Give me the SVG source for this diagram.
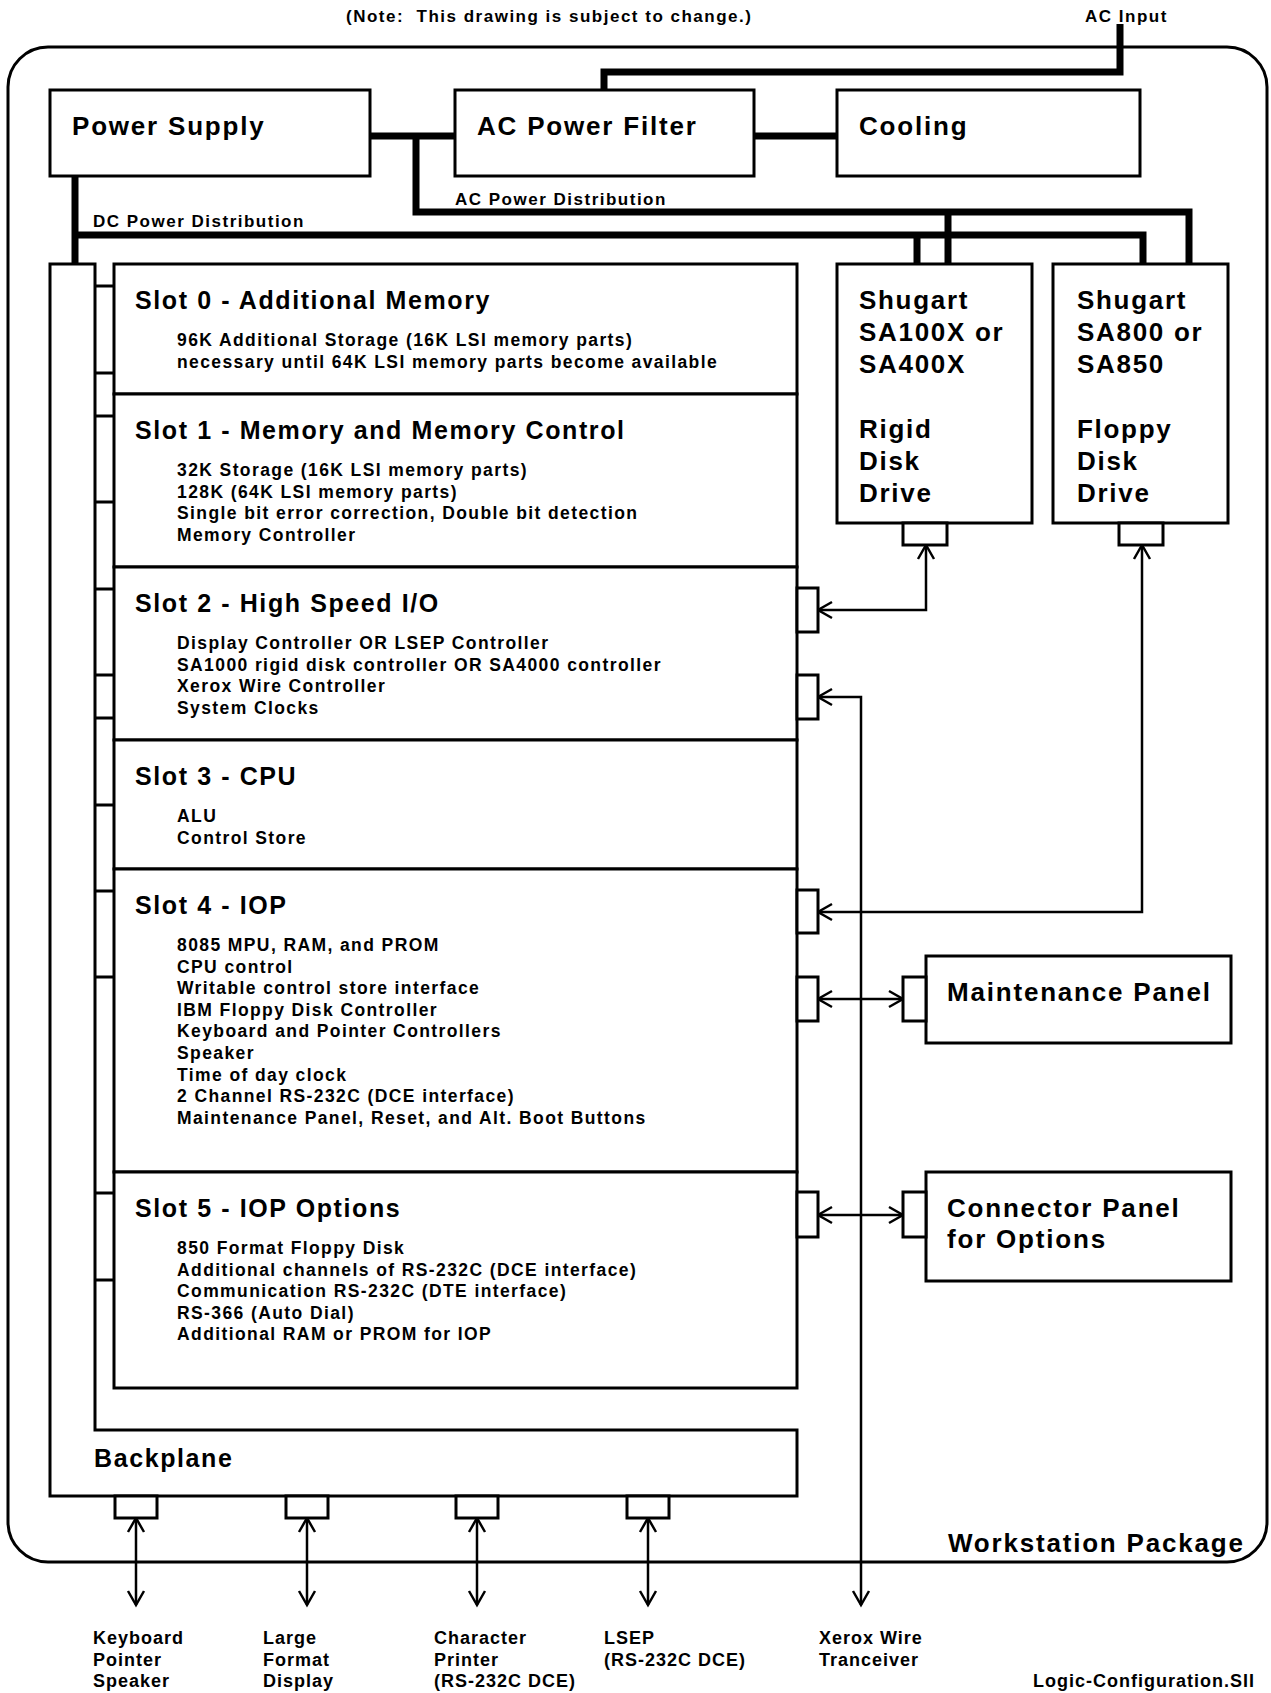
<svg xmlns="http://www.w3.org/2000/svg" width="1271" height="1693" viewBox="0 0 1271 1693">
<style>
text{font-family:"Liberation Sans",Arial,Helvetica,sans-serif;font-weight:bold;fill:#000}
.big{font-size:26px;letter-spacing:1.8px}
.slot{font-size:25px;letter-spacing:1.6px}
.body{font-size:17.5px;letter-spacing:1.4px}
.small{font-size:17px;letter-spacing:1.5px}
.lbl{font-size:18px;letter-spacing:1px}
.drive{font-size:26px;letter-spacing:1.7px}
.box{fill:#fff;stroke:#000;stroke-width:3}
.conn{fill:#fff;stroke:#000;stroke-width:3}
.power{fill:none;stroke:#000;stroke-width:7;stroke-linejoin:miter;stroke-linecap:butt}
.sig{fill:none;stroke:#000;stroke-width:2.5}
.tab{stroke:#000;stroke-width:3}
</style>
<defs>
<marker id="ah" viewBox="-16 -10 20 20" markerWidth="20" markerHeight="20" markerUnits="userSpaceOnUse" refX="0" refY="0" orient="auto-start-reverse">
<path d="M-14,-8 L0,0 L-14,8" fill="none" stroke="#000" stroke-width="2.5"/>
</marker>
</defs>

<text class="small" x="346" y="22">(Note:&#160; This drawing is subject to change.)</text>
<text class="small" x="1085" y="22">AC Input</text>

<g id="workstation-package">
<rect x="8" y="47" width="1259" height="1515" rx="40" fill="none" stroke="#000" stroke-width="3"/>
<text class="big" x="948" y="1552">Workstation Package</text>
</g>

<g id="connectors">
<path class="power" d="M1120,24 V72 H604 V90"/>
<path class="power" d="M370,136 H455"/>
<path class="power" d="M754,136 H837"/>
<path class="power" d="M416,136 V212 H1189 V264"/>
<path class="power" d="M948,212 V264"/>
<path class="power" d="M75,176 V264"/>
<path class="power" d="M75,235 H1143 V264"/>
<path class="power" d="M917,235 V264"/>
<path class="sig" d="M926,545 V610 H818" marker-start="url(#ah)" marker-end="url(#ah)"/>
<path class="sig" d="M818,697 H861 V1605" marker-start="url(#ah)" marker-end="url(#ah)"/>
<path class="sig" d="M1142,545 V912 H818" marker-start="url(#ah)" marker-end="url(#ah)"/>
<path class="sig" d="M818,999 H903" marker-start="url(#ah)" marker-end="url(#ah)"/>
<path class="sig" d="M818,1215 H903" marker-start="url(#ah)" marker-end="url(#ah)"/>
<path class="sig" d="M136,1518 V1605" marker-start="url(#ah)" marker-end="url(#ah)"/>
<path class="sig" d="M307,1518 V1605" marker-start="url(#ah)" marker-end="url(#ah)"/>
<path class="sig" d="M477,1518 V1605" marker-start="url(#ah)" marker-end="url(#ah)"/>
<path class="sig" d="M648,1518 V1605" marker-start="url(#ah)" marker-end="url(#ah)"/>
</g>

<g id="power-supply">
<rect class="box" x="50" y="90" width="320" height="86"/>
<text class="big" x="72" y="135">Power Supply</text>
</g>
<g id="ac-power-filter">
<rect class="box" x="455" y="90" width="299" height="86"/>
<text class="big" x="477" y="135">AC Power Filter</text>
</g>
<g id="cooling">
<rect class="box" x="837" y="90" width="303" height="86"/>
<text class="big" x="859" y="135">Cooling</text>
</g>
<text class="small" x="455" y="205">AC Power Distribution</text>
<text class="small" x="93" y="227">DC Power Distribution</text>

<g id="backplane">
<path class="box" d="M50,264 V1496 H797 V1430 H95 V264 Z"/>
<path class="tab" d="M95,286 H114 M95,373 H114 M95,416 H114 M95,502 H114 M95,589 H114 M95,675 H114 M95,718 H114 M95,805 H114 M95,891 H114 M95,977 H114 M95,1193 H114 M95,1280 H114"/>
<text class="slot" x="94" y="1467">Backplane</text>
<rect class="conn" x="115" y="1496" width="42" height="22"/>
<rect class="conn" x="286" y="1496" width="42" height="22"/>
<rect class="conn" x="456" y="1496" width="42" height="22"/>
<rect class="conn" x="627" y="1496" width="42" height="22"/>
</g>

<g id="slot-0">
<rect class="box" x="114" y="264" width="683" height="130"/>
<text class="slot" x="135" y="309">Slot 0 - Additional Memory</text>
<text class="body" x="177" y="346">96K Additional Storage (16K LSI memory parts)</text>
<text class="body" x="177" y="368">necessary until 64K LSI memory parts become available</text>
</g>
<g id="slot-1">
<rect class="box" x="114" y="394" width="683" height="173"/>
<text class="slot" x="135" y="439">Slot 1 - Memory and Memory Control</text>
<text class="body" x="177" y="476">32K Storage (16K LSI memory parts)</text>
<text class="body" x="177" y="497.6">128K (64K LSI memory parts)</text>
<text class="body" x="177" y="519.2">Single bit error correction, Double bit detection</text>
<text class="body" x="177" y="540.8">Memory Controller</text>
</g>
<g id="slot-2">
<rect class="box" x="114" y="567" width="683" height="173"/>
<text class="slot" x="135" y="612">Slot 2 - High Speed I/O</text>
<text class="body" x="177" y="649">Display Controller OR LSEP Controller</text>
<text class="body" x="177" y="670.6">SA1000 rigid disk controller OR SA4000 controller</text>
<text class="body" x="177" y="692.2">Xerox Wire Controller</text>
<text class="body" x="177" y="713.8">System Clocks</text>
<rect class="conn" x="797" y="588" width="21" height="44"/>
<rect class="conn" x="797" y="675" width="21" height="44"/>
</g>
<g id="slot-3">
<rect class="box" x="114" y="740" width="683" height="129"/>
<text class="slot" x="135" y="785">Slot 3 - CPU</text>
<text class="body" x="177" y="822">ALU</text>
<text class="body" x="177" y="843.6">Control Store</text>
</g>
<g id="slot-4">
<rect class="box" x="114" y="869" width="683" height="303"/>
<text class="slot" x="135" y="914">Slot 4 - IOP</text>
<text class="body" x="177" y="951">8085 MPU, RAM, and PROM</text>
<text class="body" x="177" y="972.6">CPU control</text>
<text class="body" x="177" y="994.2">Writable control store interface</text>
<text class="body" x="177" y="1015.8">IBM Floppy Disk Controller</text>
<text class="body" x="177" y="1037.4">Keyboard and Pointer Controllers</text>
<text class="body" x="177" y="1059">Speaker</text>
<text class="body" x="177" y="1080.6">Time of day clock</text>
<text class="body" x="177" y="1102.2">2 Channel RS-232C (DCE interface)</text>
<text class="body" x="177" y="1123.8">Maintenance Panel, Reset, and Alt. Boot Buttons</text>
<rect class="conn" x="797" y="890" width="21" height="43"/>
<rect class="conn" x="797" y="977" width="21" height="44"/>
</g>
<g id="slot-5">
<rect class="box" x="114" y="1172" width="683" height="216"/>
<text class="slot" x="135" y="1217">Slot 5 - IOP Options</text>
<text class="body" x="177" y="1254">850 Format Floppy Disk</text>
<text class="body" x="177" y="1275.6">Additional channels of RS-232C (DCE interface)</text>
<text class="body" x="177" y="1297.2">Communication RS-232C (DTE interface)</text>
<text class="body" x="177" y="1318.8">RS-366 (Auto Dial)</text>
<text class="body" x="177" y="1340.4">Additional RAM or PROM for IOP</text>
<rect class="conn" x="797" y="1192" width="21" height="45"/>
</g>

<g id="rigid-disk-drive">
<rect class="box" x="837" y="264" width="195" height="259"/>
<text class="drive" x="859" y="309">Shugart</text>
<text class="drive" x="859" y="341">SA100X or</text>
<text class="drive" x="859" y="373">SA400X</text>
<text class="drive" x="859" y="438">Rigid</text>
<text class="drive" x="859" y="470">Disk</text>
<text class="drive" x="859" y="502">Drive</text>
<rect class="conn" x="903" y="523" width="44" height="22"/>
</g>
<g id="floppy-disk-drive">
<rect class="box" x="1053" y="264" width="175" height="259"/>
<text class="drive" x="1077" y="309">Shugart</text>
<text class="drive" x="1077" y="341">SA800 or</text>
<text class="drive" x="1077" y="373">SA850</text>
<text class="drive" x="1077" y="438">Floppy</text>
<text class="drive" x="1077" y="470">Disk</text>
<text class="drive" x="1077" y="502">Drive</text>
<rect class="conn" x="1119" y="523" width="44" height="22"/>
</g>

<g id="maintenance-panel">
<rect class="box" x="926" y="956" width="305" height="87"/>
<rect class="conn" x="903" y="977" width="23" height="44"/>
<text class="big" x="947" y="1001">Maintenance Panel</text>
</g>
<g id="connector-panel">
<rect class="box" x="926" y="1172" width="305" height="109"/>
<rect class="conn" x="903" y="1192" width="23" height="45"/>
<text class="big" x="947" y="1217">Connector Panel</text>
<text class="big" x="947" y="1248">for Options</text>
</g>

<g id="external-labels">
<text class="lbl" x="93" y="1644">Keyboard</text>
<text class="lbl" x="93" y="1665.5">Pointer</text>
<text class="lbl" x="93" y="1687">Speaker</text>
<text class="lbl" x="263" y="1644">Large</text>
<text class="lbl" x="263" y="1665.5">Format</text>
<text class="lbl" x="263" y="1687">Display</text>
<text class="lbl" x="434" y="1644">Character</text>
<text class="lbl" x="434" y="1665.5">Printer</text>
<text class="lbl" x="434" y="1687">(RS-232C DCE)</text>
<text class="lbl" x="604" y="1644">LSEP</text>
<text class="lbl" x="604" y="1665.5">(RS-232C DCE)</text>
<text class="lbl" x="819" y="1644">Xerox Wire</text>
<text class="lbl" x="819" y="1665.5">Tranceiver</text>
<text class="lbl" x="1033" y="1687">Logic-Configuration.SII</text>
</g>
</svg>
